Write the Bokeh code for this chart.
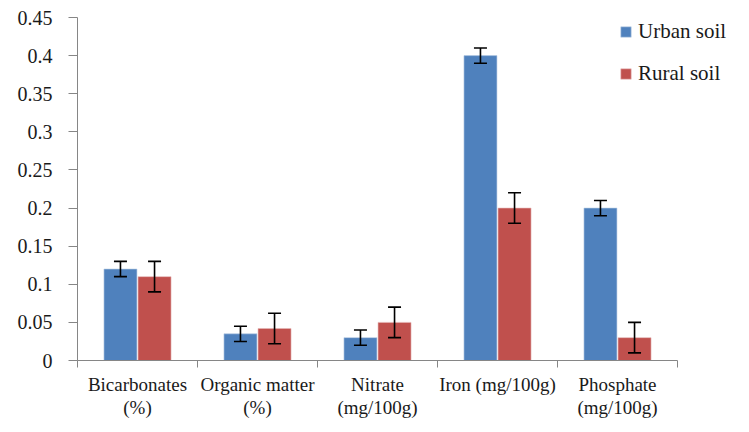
import numpy as np
from bokeh.plotting import figure
from bokeh.models import (ColumnDataSource, Range1d, FixedTicker, Whisker, TeeHead,
                          Legend, LegendItem, CustomJSTickFormatter)
from bokeh.embed import file_html
from bokeh.resources import INLINE

categories = ["Bicarbonates\n(%)", "Organic matter\n(%)", "Nitrate\n(mg/100g)",
              "Iron (mg/100g)", "Phosphate\n(mg/100g)"]
urban = [0.12, 0.035, 0.03, 0.40, 0.20]
urban_err = [0.01, 0.01, 0.01, 0.01, 0.01]
rural = [0.11, 0.042, 0.05, 0.20, 0.03]
rural_err = [0.02, 0.02, 0.02, 0.02, 0.02]
y_ticks = [0, 0.05, 0.1, 0.15, 0.2, 0.25, 0.3, 0.35, 0.4, 0.45]

FONT = "Liberation Serif"
BLUE = "#4F81BD"
RED = "#C0504D"
AXIS = "#868686"

n = len(categories)
centers = np.arange(n) + 0.5
offset = 0.142
bw = 0.275

LEFT = 77
FW = 733 - LEFT        # frame runs to the right edge (category width 120 px)
x_end = FW / 120.0

xu = centers - offset
xr = centers + offset
src_u = ColumnDataSource(dict(x=xu, top=urban, upper=np.array(urban) + np.array(urban_err),
                              lower=np.array(urban) - np.array(urban_err)))
src_r = ColumnDataSource(dict(x=xr, top=rural, upper=np.array(rural) + np.array(rural_err),
                              lower=np.array(rural) - np.array(rural_err)))

p = figure(width=733, height=416, frame_width=FW, frame_height=343,
           output_backend="svg", toolbar_location=None,
           x_range=Range1d(0, x_end), y_range=Range1d(0, 0.45),
           min_border_left=LEFT, min_border_right=0, min_border_top=17, min_border_bottom=56)
p.outline_line_color = None
p.xgrid.visible = False
p.ygrid.visible = False

ru = p.vbar(x="x", top="top", width=bw, source=src_u, fill_color=BLUE, line_color="#B8CCE4", line_width=0.6)
rr = p.vbar(x="x", top="top", width=bw, source=src_r, fill_color=RED, line_color="#E6B9B8", line_width=0.6)

for s in (src_u, src_r):
    w = Whisker(source=s, base="x", upper="upper", lower="lower", line_color="black", line_width=1.6,
                level="overlay",
                upper_head=TeeHead(size=13, line_color="black", line_width=1.6),
                lower_head=TeeHead(size=13, line_color="black", line_width=1.6))
    p.add_layout(w)

# y axis
ya = p.yaxis[0]
ya.ticker = FixedTicker(ticks=y_ticks)
ya.formatter = CustomJSTickFormatter(code="return tick.toFixed(2).replace(/0+$/,'').replace(/\\.$/,'');")
ya.axis_line_color = AXIS
ya.major_tick_line_color = AXIS
ya.major_tick_out = 9
ya.major_tick_in = 0
ya.minor_tick_line_color = None
ya.major_label_standoff = 16
ya.major_label_text_font = FONT
ya.major_label_text_font_size = "20px"
ya.major_label_text_color = "#1a1a1a"

# x axis
xa = p.xaxis[0]
xa.bounds = (0, n)
xa.ticker = FixedTicker(ticks=list(centers), minor_ticks=list(np.arange(n + 1)))
xa.major_label_overrides = {float(c): lab for c, lab in zip(centers, categories)}
xa.axis_line_color = AXIS
xa.major_tick_line_color = None
xa.minor_tick_line_color = AXIS
xa.minor_tick_out = 7
xa.minor_tick_in = 0
xa.major_label_standoff = 6
xa.major_label_text_font = FONT
xa.major_label_text_font_size = "19px"
xa.major_label_text_color = "#1a1a1a"
xa.major_label_text_line_height = 1.1

legend = Legend(items=[LegendItem(label="Urban soil", renderers=[ru]),
                       LegendItem(label="Rural soil", renderers=[rr])],
                location=(542, 274), padding=0, margin=0, spacing=17,
                glyph_width=13, glyph_height=13, label_standoff=6,
                label_text_font=FONT, label_text_font_size="21px", label_text_color="#1a1a1a",
                border_line_color=None, background_fill_alpha=0)
p.add_layout(legend, "center")

open("out.html", "w").write(file_html(p, INLINE))
